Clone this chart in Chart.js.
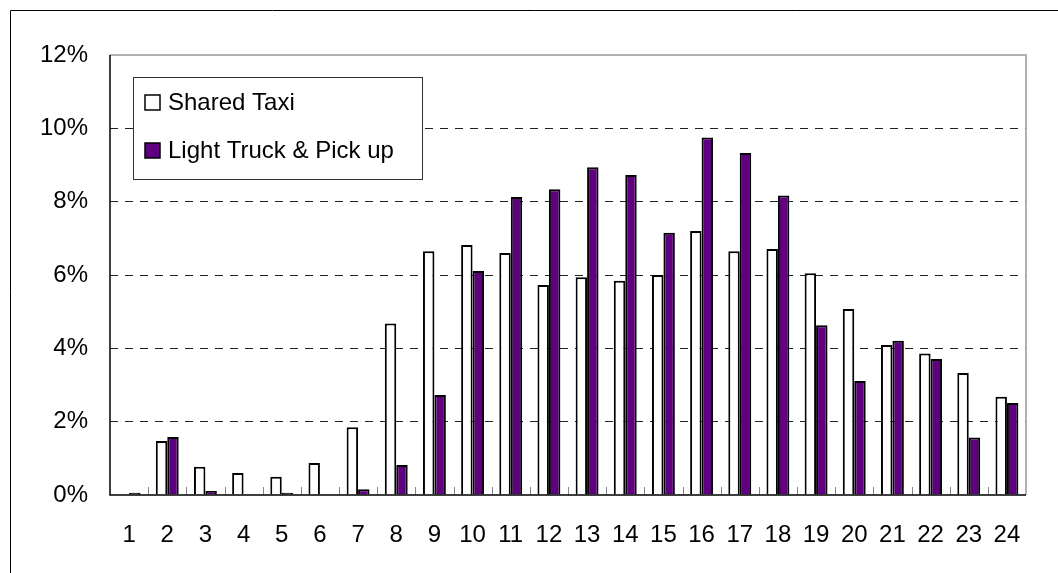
<!DOCTYPE html>
<html lang="en">
<head>
    <meta charset="UTF-8" />
    <title>Shared Taxi vs Light Truck</title>
    <script src="https://cdn.jsdelivr.net/npm/chart.js"></script>
    <style>
        body { margin: 0; background: #fff; }
        canvas { display: block; }
    </style>
</head>
<body>

<canvas id="grafico" width="1058" height="573"></canvas>

<script>
    // hour categories
    const horas = ["1","2","3","4","5","6","7","8","9","10","11","12","13","14","15","16","17","18","19","20","21","22","23","24"];

    // share (%) per hour
    const sharedTaxi = [0, 1.47, 0.77, 0.60, 0.50, 0.87, 1.85, 4.68, 6.65, 6.82, 6.60, 5.73, 5.94, 5.84, 6.00, 7.20, 6.65, 6.71, 6.05, 5.07, 4.09, 3.86, 3.33, 2.68];
    const lightTruck = [0.06, 1.58, 0.11, 0, 0.06, 0, 0.16, 0.82, 2.73, 6.11, 8.13, 8.34, 8.94, 8.73, 7.15, 9.75, 9.33, 8.17, 4.63, 3.11, 4.21, 3.71, 1.57, 2.51];

    const yTicks = [0, 2, 4, 6, 8, 10, 12];

    const fuente = "'Liberation Sans', Arial, sans-serif";

    // === marco, ticks interiores y leyenda ===
    const extras = {
        id: "extras",
        afterDraw(chart) {
            const ctx = chart.ctx;
            const a = chart.chartArea;
            const x = chart.scales.x;

            ctx.save();
            // outer frame
            ctx.strokeStyle = "#000";
            ctx.lineWidth = 1;
            ctx.beginPath();
            ctx.moveTo(10.5, 600);
            ctx.lineTo(10.5, 10.5);
            ctx.lineTo(1058, 10.5);
            ctx.stroke();

            // tick marks between categories
            ctx.strokeStyle = "#888";
            for (let i = 0; i < horas.length - 1; i++) {
                const px = Math.round((x.getPixelForValue(i) + x.getPixelForValue(i + 1)) / 2) + 0.5;
                ctx.beginPath();
                ctx.moveTo(px, a.bottom);
                ctx.lineTo(px, a.bottom - 8);
                ctx.stroke();
            }

            // plot border
            ctx.strokeStyle = "#999";
            ctx.lineWidth = 1.5;
            ctx.beginPath();
            ctx.moveTo(a.left, a.top);
            ctx.lineTo(a.right, a.top);
            ctx.lineTo(a.right, a.bottom);
            ctx.stroke();
            ctx.strokeStyle = "#000";
            ctx.beginPath();
            ctx.moveTo(a.left, a.top);
            ctx.lineTo(a.left, a.bottom);
            ctx.lineTo(a.right, a.bottom);
            ctx.stroke();

            // legend
            ctx.fillStyle = "#fff";
            ctx.fillRect(133, 77, 289, 102);
            ctx.strokeStyle = "#333";
            ctx.lineWidth = 1;
            ctx.strokeRect(133.5, 77.5, 289, 102);
            ctx.font = "24px " + fuente;
            ctx.textBaseline = "middle";
            chart.data.datasets.forEach((ds, i) => {
                const cy = 102 + i * 48;
                ctx.fillStyle = ds.backgroundColor;
                ctx.fillRect(145, cy - 7, 15, 15);
                ctx.strokeStyle = "#000";
                ctx.lineWidth = 1.5;
                ctx.strokeRect(145, cy - 7, 15, 15);
                ctx.fillStyle = "#000";
                ctx.fillText(ds.label, 168, cy + 1);
            });
            ctx.restore();
        }
    };

    new Chart(document.getElementById("grafico"), {
        type: "bar",
        data: {
            labels: horas,
            datasets: [
                {
                    label: "Shared Taxi",
                    data: sharedTaxi,
                    backgroundColor: "#ffffff",
                    borderColor: "#000",
                    borderWidth: 2
                },
                {
                    label: "Light Truck & Pick up",
                    data: lightTruck,
                    backgroundColor: "#600080",
                    borderColor: "#000",
                    borderWidth: 2
                }
            ]
        },
        options: {
            responsive: false,
            animation: false,
            devicePixelRatio: 1,
            layout: { padding: { top: 55, right: 32, bottom: 0, left: 0 } },
            categoryPercentage: 0.6,
            barPercentage: 1.0,
            plugins: {
                legend: { display: false },
                tooltip: { enabled: false }
            },
            scales: {
                x: {
                    grid: { display: false },
                    border: { display: false },
                    ticks: {
                        color: "#000",
                        font: { size: 24, family: fuente },
                        padding: 18,
                        maxRotation: 0,
                        autoSkip: false
                    },
                    afterFit(scale) { scale.height = 78; }
                },
                y: {
                    min: 0,
                    max: 12,
                    afterBuildTicks(scale) { scale.ticks = yTicks.map(v => ({ value: v })); },
                    grid: {
                        drawTicks: false,
                        color: ctx => (ctx.tick && (ctx.tick.value === 0 || ctx.tick.value === 12)) ? "rgba(0,0,0,0)" : "#222",
                        lineWidth: 1
                    },
                    border: { display: false, dash: [8, 7] },
                    ticks: {
                        color: "#000",
                        font: { size: 24, family: fuente },
                        padding: 22,
                        callback: v => v + "%"
                    },
                    afterFit(scale) { scale.width = 110; }
                }
            }
        },
        plugins: [extras]
    });
</script>
</body>
</html>
